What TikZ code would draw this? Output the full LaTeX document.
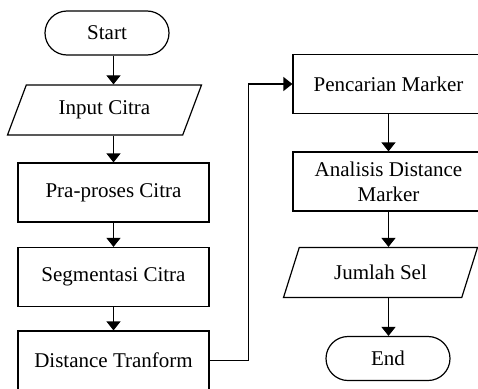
\documentclass[tikz,border=0pt]{standalone}
\usepackage{fontspec}
\setmainfont{Liberation Serif}
\usetikzlibrary{arrows.meta,shapes.geometric,positioning}
\tikzset{
	proc/.style={draw, rectangle, minimum width=191pt, minimum height=59pt, align=center, inner sep=2pt},
	term/.style={draw, rectangle, rounded corners=22pt, minimum width=124pt, minimum height=44pt},
	io/.style={draw, trapezium, trapezium left angle=50, trapezium right angle=130,
		trapezium stretches body, minimum width=194pt, minimum height=50pt, inner sep=2pt},
	flow/.style={-{Triangle[length=9pt,width=14pt]}}
}

\begin{document}
\begin{tikzpicture}[x=1pt, y=-1pt, line width=1.2pt,
		font=\fontsize{21}{25}\selectfont]
	\useasboundingbox (0,0) rectangle (478,388);
	\node[term] (start) at (107, 33) {Start};
	\node[io] (input) at (104.5, 110) {Input Citra};
	\node[proc] (pra) at (113.5, 192.5) {Pra-proses Citra};
	\node[proc] (seg) at (113.5, 277) {Segmentasi Citra};
	\node[proc] (dt) at (113.5, 360.5) {Distance Tranform};
	\node[proc] (pm) at (388.5, 84) {Pencarian Marker};
	\node[proc] (adm) at (388.5, 181.5) {Analisis Distance\\Marker};
	\node[io] (js) at (380.5, 272.5) {Jumlah Sel};
	\node[term] (end) at (388, 358.5) {End};
	\draw[flow] (start.south -| pra.north) -- (input.north -| pra.north);
	\draw[flow] (input.south -| pra.north) -- (pra.north);
	\draw[flow] (pra) -- (seg);
	\draw[flow] (seg) -- (dt);
	\draw[flow] (dt.east) -- ++(39,0) |- (pm.west);
	\draw[flow] (pm) -- (adm);
	\draw[flow] (adm.south) -- (js.north -| adm.south);
	\draw[flow] (js.south -| adm.south) -- (end.north -| adm.south);
\end{tikzpicture}
\end{document}
